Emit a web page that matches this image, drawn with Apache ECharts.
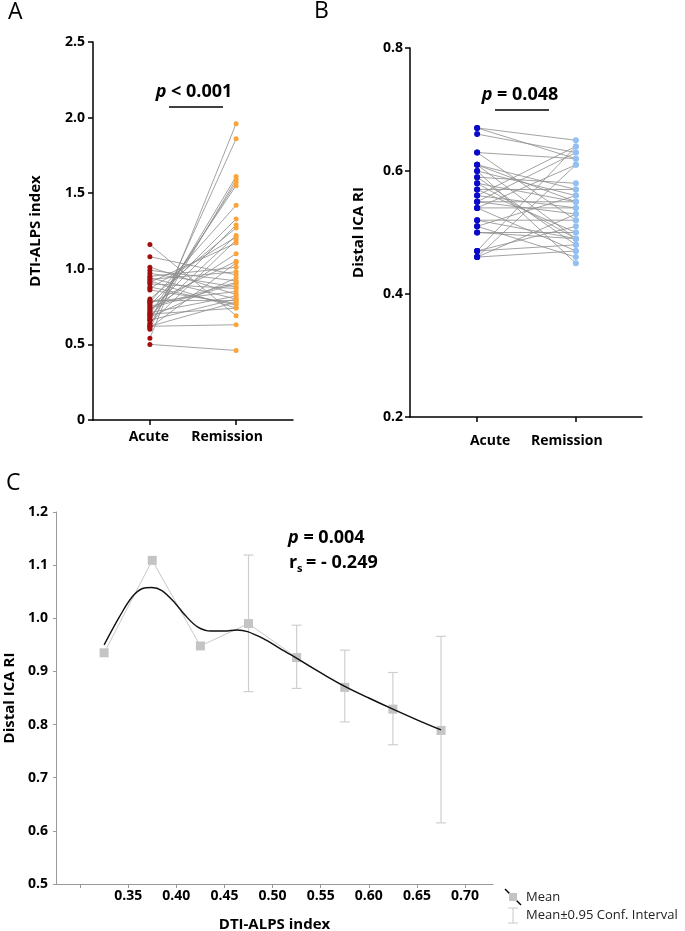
<!DOCTYPE html>
<html>
<head>
<meta charset="utf-8">
<script src="https://cdn.jsdelivr.net/npm/echarts@6/dist/echarts.min.js"></script>
<style>
html,body{margin:0;padding:0;background:#fff;}
#c{width:685px;height:931px;}
</style>
</head>
<body>
<div id="c"></div>
<script>
// ---- Panel A: DTI-ALPS index, paired ----
const groupLabels = ['Acute', 'Remission'];
const alpsAcute = [0.50,0.54,0.60,0.62,0.63,0.66,0.67,0.70,0.78,0.76,0.72,0.80,0.69,0.87,0.64,0.91,0.73,0.77,0.61,0.95,
                   1.08,0.93,0.68,0.99,0.75,0.90,1.01,0.71,0.94,0.66,0.86,0.79,0.92,0.70,0.88,1.16,0.97,0.78,0.62,0.74];
const alpsRemission = [0.46,1.96,1.86,0.63,1.59,1.61,1.57,1.55,1.42,1.33,1.29,1.27,1.22,1.21,1.19,1.17,1.10,1.05,1.04,1.01,
                   0.96,0.98,0.94,0.92,0.91,0.87,0.83,0.82,0.80,0.80,0.77,0.79,0.74,0.74,0.76,0.69,0.88,0.85,0.78,0.90];

// ---- Panel B: Distal ICA RI, paired ----
const riAcute = [0.67,0.67,0.66,0.63,0.63,0.61,0.61,0.61,0.60,0.60,0.59,0.59,0.58,0.58,0.57,0.57,0.56,0.56,
                 0.55,0.55,0.55,0.54,0.54,0.54,0.52,0.52,0.51,0.51,0.50,0.50,0.47,0.47,0.47,0.46,0.46,0.46];
const riRemission = [0.65,0.62,0.63,0.62,0.52,0.55,0.49,0.57,0.45,0.56,0.48,0.58,0.55,0.49,0.57,0.50,0.64,0.54,
                 0.55,0.53,0.63,0.54,0.47,0.61,0.52,0.49,0.56,0.46,0.50,0.49,0.64,0.51,0.48,0.61,0.47,0.53];

// ---- Panel C: binned means ----
const binX = [0.325,0.375,0.425,0.475,0.525,0.575,0.625,0.675];
const binMean = [0.935,1.109,0.948,0.990,0.926,0.870,0.829,0.789];
const ciX = [0.475,0.525,0.575,0.625,0.675];
const ciLow = [0.862,0.868,0.805,0.762,0.615];
const ciHigh = [1.119,0.987,0.940,0.898,0.966];
const fitX = [0.325,0.341,0.354,0.365,0.3745,0.385,0.399,0.409,0.422,0.436,0.450,0.463,0.474,0.490,0.507,0.524,0.541,0.558,0.575,0.600,0.625,0.650,0.675];
const fitY = [0.950,1.003,1.040,1.056,1.058,1.052,1.028,1.006,0.984,0.976,0.976,0.978,0.975,0.962,0.944,0.926,0.907,0.889,0.872,0.850,0.829,0.809,0.790];
const cTicksX = [0.30,0.35,0.40,0.45,0.50,0.55,0.60,0.65,0.70];
const cLabelsX = [0.35,0.40,0.45,0.50,0.55,0.60,0.65,0.70];

const FONT = 'Open Sans';
const chart = echarts.init(document.getElementById('c'), null, {renderer:'canvas'});

const series = [];
for (let i = 0; i < alpsAcute.length; i++) {
  series.push({type:'line', xAxisIndex:0, yAxisIndex:0, data:[[1, alpsAcute[i]],[2, alpsRemission[i]]],
    symbol:'none', silent:true, lineStyle:{color:'#8c8c8c', width:0.8}, z:1});
}
series.push({type:'scatter', xAxisIndex:0, yAxisIndex:0, data: alpsAcute.map(v=>[1,v]), symbolSize:5,
  itemStyle:{color:'#a30d0d', opacity:1}, z:3});
series.push({type:'scatter', xAxisIndex:0, yAxisIndex:0, data: alpsRemission.map(v=>[2,v]), symbolSize:5,
  itemStyle:{color:'#fba43c', opacity:1}, z:3});
for (let i = 0; i < riAcute.length; i++) {
  series.push({type:'line', xAxisIndex:1, yAxisIndex:1, data:[[1, riAcute[i]],[2, riRemission[i]]],
    symbol:'none', silent:true, lineStyle:{color:'#8c8c8c', width:0.8}, z:1});
}
series.push({type:'scatter', xAxisIndex:1, yAxisIndex:1, data: riAcute.map(v=>[1,v]), symbolSize:6,
  itemStyle:{color:'#0a0ac8', opacity:1}, z:3});
series.push({type:'scatter', xAxisIndex:1, yAxisIndex:1, data: riRemission.map(v=>[2,v]), symbolSize:6,
  itemStyle:{color:'#92c0f4', opacity:1}, z:3});
series.push({type:'custom', xAxisIndex:2, yAxisIndex:2, z:2,
  data: ciX.map((x,i)=>[x, ciLow[i], ciHigh[i]]),
  renderItem: function(params, api){
    const lo = api.coord([api.value(0), api.value(1)]);
    const hi = api.coord([api.value(0), api.value(2)]);
    const w = 5;
    const st = {stroke:'#cfcfcf', lineWidth:1.2};
    return {type:'group', children:[
      {type:'line', shape:{x1:lo[0],y1:lo[1],x2:hi[0],y2:hi[1]}, style:st},
      {type:'line', shape:{x1:lo[0]-w,y1:lo[1],x2:lo[0]+w,y2:lo[1]}, style:st},
      {type:'line', shape:{x1:hi[0]-w,y1:hi[1],x2:hi[0]+w,y2:hi[1]}, style:st}
    ]};
  }
});
series.push({type:'line', xAxisIndex:2, yAxisIndex:2, z:3, data: binX.map((x,i)=>[x, binMean[i]]),
  symbol:'rect', symbolSize:9, itemStyle:{color:'#c4c4c4'}, lineStyle:{color:'#c8c8c8', width:1}});
series.push({type:'line', xAxisIndex:2, yAxisIndex:2, z:4, data: fitX.map((x,i)=>[x, fitY[i]]),
  symbol:'none', smooth:0.35, lineStyle:{color:'#111', width:1.4}});

const boldLbl = {color:'#000', fontWeight:'bold', fontSize:14, fontFamily:FONT};
const blackAxis = {show:true, lineStyle:{color:'#000', width:1.5}};

chart.setOption({
  animation:false,
  textStyle:{fontFamily:FONT},
  grid:[
    {left:93, top:42, width:200, height:378, outerBoundsMode:'none', containLabel:false},
    {left:410, top:48, width:232, height:369, outerBoundsMode:'none', containLabel:false},
    {left:56, top:512, width:437, height:372, outerBoundsMode:'none', containLabel:false}
  ],
  xAxis:[
    {gridIndex:0, type:'value', min:0.34, max:2.66, splitLine:{show:false},
     axisLine:blackAxis, axisTick:{show:true, customValues:[1,2], length:5, lineStyle:{color:'#000', width:1.5}},
     axisLabel:{customValues:[1,2], margin:10, formatter:v => v===1 ? '{a|'+groupLabels[0]+'}' : '{r|'+groupLabels[1]+'}',
       rich:{a:Object.assign({}, boldLbl, {padding:[0,2,0,0]}), r:Object.assign({}, boldLbl, {padding:[0,18,0,0]})}}},
    {gridIndex:1, type:'value', min:0.32, max:2.67, splitLine:{show:false},
     axisLine:blackAxis, axisTick:{show:true, customValues:[1,2], length:5, lineStyle:{color:'#000', width:1.5}},
     axisLabel:{customValues:[1,2], margin:17, formatter:v => v===1 ? '{a|'+groupLabels[0]+'}' : '{r|'+groupLabels[1]+'}',
       rich:{a:Object.assign({}, boldLbl, {padding:[0,0,0,26]}), r:Object.assign({}, boldLbl, {padding:[0,18,0,0]})}}},
    {gridIndex:2, type:'value', min:0.275, max:0.729, splitLine:{show:false},
     axisLine:{show:true, lineStyle:{color:'#9a9a9a', width:1}},
     axisTick:{show:true, customValues:cTicksX, length:4, lineStyle:{color:'#9a9a9a'}},
     axisLabel:Object.assign({customValues:cLabelsX, margin:5, formatter:v=>v.toFixed(2)}, boldLbl),
     name:'DTI-ALPS index', nameLocation:'middle', nameGap:33,
     nameTextStyle:{color:'#000', fontWeight:'bold', fontSize:15, fontFamily:FONT}}
  ],
  yAxis:[
    {gridIndex:0, type:'value', min:0, max:2.5, interval:0.5, splitLine:{show:false},
     axisLine:blackAxis, axisTick:{show:true, length:5, lineStyle:{color:'#000', width:1.5}},
     axisLabel:Object.assign({margin:8, formatter:v=> v===0 ? '0' : v.toFixed(1)}, boldLbl),
     name:'DTI-ALPS index', nameLocation:'middle', nameGap:50,
     nameTextStyle:{color:'#000', fontWeight:'bold', fontSize:15, fontFamily:FONT}},
    {gridIndex:1, type:'value', min:0.2, max:0.8, interval:0.2, splitLine:{show:false},
     axisLine:blackAxis, axisTick:{show:true, length:5, lineStyle:{color:'#000', width:1.5}},
     axisLabel:Object.assign({margin:7, formatter:v=>v.toFixed(1)}, boldLbl),
     name:'Distal ICA RI', nameLocation:'middle', nameGap:44,
     nameTextStyle:{color:'#000', fontWeight:'bold', fontSize:15, fontFamily:FONT}},
    {gridIndex:2, type:'value', min:0.5, max:1.2, interval:0.1, splitLine:{show:false},
     axisLine:{show:true, lineStyle:{color:'#9a9a9a', width:1}},
     axisTick:{show:true, length:3, lineStyle:{color:'#9a9a9a'}},
     axisLabel:Object.assign({margin:8, formatter:v=>v.toFixed(1)}, boldLbl),
     name:'Distal ICA RI', nameLocation:'middle', nameGap:38,
     nameTextStyle:{color:'#000', fontWeight:'bold', fontSize:15, fontFamily:FONT}}
  ],
  series: series,
  graphic:[
    {type:'text', left:8, top:1, style:{text:'A', font:'23px "Open Sans"', fill:'#000'}},
    {type:'text', left:314, top:0, style:{text:'B', font:'23px "Open Sans"', fill:'#000'}},
    {type:'text', left:6, top:472, style:{text:'C', font:'23px "Open Sans"', fill:'#000'}},
    {type:'text', x:194, y:92, style:{text:'{i|p} < 0.001', textAlign:'center', textVerticalAlign:'middle',
      font:'bold 18px "Open Sans"', fill:'#000', rich:{i:{fontStyle:'italic', fontWeight:'bold', fontSize:18, fontFamily:FONT}}}},
    {type:'line', shape:{x1:169,y1:107,x2:223,y2:107}, style:{stroke:'#000', lineWidth:1.5}},
    {type:'text', x:520, y:95, style:{text:'{i|p} = 0.048', textAlign:'center', textVerticalAlign:'middle',
      font:'bold 18px "Open Sans"', fill:'#000', rich:{i:{fontStyle:'italic', fontWeight:'bold', fontSize:18, fontFamily:FONT}}}},
    {type:'line', shape:{x1:495,y1:110,x2:549,y2:110}, style:{stroke:'#000', lineWidth:1.5}},
    {type:'text', x:288, y:538, style:{text:'{i|p} = 0.004', textAlign:'left', textVerticalAlign:'middle',
      font:'bold 18px "Open Sans"', fill:'#000', rich:{i:{fontStyle:'italic', fontWeight:'bold', fontSize:18, fontFamily:FONT}}}},
    {type:'text', x:289, y:563, style:{text:'r', textAlign:'left', textVerticalAlign:'middle', font:'bold 18px "Open Sans"', fill:'#000'}},
    {type:'text', x:297, y:569, style:{text:'s', textAlign:'left', textVerticalAlign:'middle', font:'bold 11px "Open Sans"', fill:'#000'}},
    {type:'text', x:306, y:563, style:{text:'= - 0.249', textAlign:'left', textVerticalAlign:'middle', font:'bold 18px "Open Sans"', fill:'#000'}},
    {type:'line', shape:{x1:505,y1:889,x2:521,y2:905}, style:{stroke:'#000', lineWidth:1.5}},
    {type:'rect', shape:{x:509,y:893,width:8,height:8}, style:{fill:'#c4c4c4'}},
    {type:'text', x:526, y:897, style:{text:'Mean', textAlign:'left', textVerticalAlign:'middle', font:'13px "Open Sans"', fill:'#222'}},
    {type:'line', shape:{x1:513,y1:908,x2:513,y2:923}, style:{stroke:'#c8c8c8', lineWidth:1}},
    {type:'line', shape:{x1:508,y1:908,x2:518,y2:908}, style:{stroke:'#c8c8c8', lineWidth:1}},
    {type:'line', shape:{x1:508,y1:923,x2:518,y2:923}, style:{stroke:'#c8c8c8', lineWidth:1}},
    {type:'text', x:526, y:915, style:{text:'Mean\u00b10.95 Conf. Interval', textAlign:'left', textVerticalAlign:'middle', font:'13px "Open Sans"', fill:'#222'}}
  ]
});
</script>
</body>
</html>
